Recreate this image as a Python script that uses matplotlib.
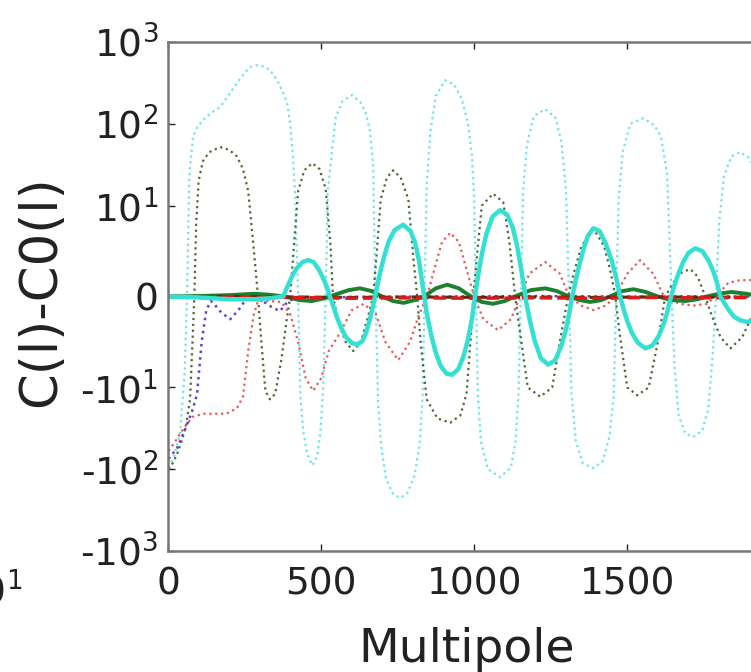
import matplotlib
matplotlib.use("Agg")
import matplotlib.pyplot as plt

# ---- data: C(l) - C0(l) residuals vs multipole ----
ell_cyan_dot = [2, 20, 40, 55, 62, 70, 82, 95, 114, 140, 170, 200, 225, 250, 270, 291, 315, 333, 355, 376,
                389, 399, 408, 416, 425, 432, 442, 455, 471, 487, 498, 507, 515, 522, 532, 548, 570, 601,
                628, 645, 660, 670, 678, 686, 697, 712, 735, 758, 782, 805, 822, 832, 838, 845, 857, 875,
                905, 935, 960, 980, 993, 1000, 1006, 1012, 1022, 1045, 1085, 1120, 1135, 1145, 1152, 1160,
                1172, 1195, 1232, 1265, 1285, 1300, 1310, 1318, 1332, 1355, 1389, 1420, 1442, 1456, 1464,
                1472, 1485, 1510, 1552, 1590, 1610, 1630, 1645, 1655, 1668, 1690, 1716, 1745, 1765, 1780,
                1790, 1800, 1815, 1840, 1869, 1900, 1925, 1950]
cl_cyan_dot = [-95, -70, -35, -8, 0, 25, 70, 90, 111, 135, 160, 230, 315, 420, 495, 520, 500, 455, 350, 240,
               180, 100, 40, 12, 0, -12, -35, -65, -90, -70, -35, -10, 0, 15, 35, 120, 190, 225,
               185, 140, 80, 30, 0, -15, -55, -130, -200, -225, -195, -120, -50, -12, 0, 18, 80, 220,
               340, 300, 200, 100, 40, 12, 0, -12, -45, -100, -125, -95, -45, -12, 0, 15,
               55, 125, 151, 120, 60, 15, 0, -12, -45, -85, -97, -80, -40, -12, 0,
               12, 45, 100, 117, 95, 70, 25, 0, -8, -22, -37, -40, -34, -18, -6,
               0, 8, 22, 40, 45, 38, 22, 8]

ell_olive_dot = [2, 15, 30, 45, 60, 72, 80, 86, 92, 100, 114, 135, 170, 200, 225, 245, 262, 278, 294,
                 305, 318, 333, 350, 370, 388, 399, 410, 425, 445, 471, 495, 515, 530, 539, 555, 580,
                 605, 630, 655, 670, 680, 695, 715, 735, 760, 785, 802, 814, 825, 845, 880, 922, 955,
                 975, 990, 997, 1008, 1025, 1062, 1095, 1115, 1134, 1150, 1175, 1216, 1255, 1285, 1307,
                 1325, 1350, 1389, 1425, 1447, 1461, 1475, 1500, 1533, 1570, 1600, 1624, 1650, 1680,
                 1706, 1730, 1755, 1775, 1805, 1837, 1875, 1910, 1935, 1950]
cl_olive_dot = [-100, -85, -65, -45, -28, -14, -5, 0, 8, 20, 35, 45, 52, 48, 40, 28, 15, 6, 0,
                -5, -11, -14, -12, -7, -2.5, 0, 5, 15, 27, 33, 28, 16, 6, 0, -2.5, -5,
                -6, -5, -2, 0, 4, 12, 22, 27, 22, 12, 4, 0, -5, -14, -24, -27, -22,
                -12, -4, 0, 4, 10, 14, 11, 6, 0, -4, -10, -13, -10, -4, 0,
                2.5, 5.5, 7.5, 5.5, 2.5, 0, -4, -10, -12.5, -10, -5, 0, 1.5, 2.7,
                3, 2.2, 0, -2, -4.5, -5.7, -4.5, -2, 0, 0.8]

ell_red_dot = [2, 25, 50, 80, 114, 150, 190, 225, 245, 262, 280, 294, 330, 370, 400, 425, 450, 474, 500,
               525, 562, 600, 640, 680, 710, 752, 790, 820, 846, 870, 895, 922, 950, 975, 1000, 1030,
               1078, 1120, 1150, 1180, 1232, 1280, 1310, 1350, 1389, 1430, 1460, 1500, 1542, 1585,
               1620, 1670, 1716, 1760, 1790, 1830, 1869, 1910, 1950]
cl_red_dot = [-60, -45, -32, -23, -21, -21, -21, -18, -13, -6, -2, -0.5, -0.5, -0.6, -2, -5, -9, -11, -9,
              -6, -4, -1.5, -0.8, -2, -5, -7, -5, -2, 0, 3, 6, 7, 6, 3, 0, -2.5,
              -3.7, -2.5, 0, 2.5, 3.8, 2.5, 0, -1, -1.5, -1, 0, 2.5, 4, 2.5,
              0, -0.8, -1, -0.8, 0, 1.5, 1.8, 1.8, 1.5]

ell_blue_dot = [2, 30, 60, 82, 95, 110, 125, 140, 150, 175, 203, 230, 255, 268, 300, 340, 366, 385,
                410, 600, 900, 1200, 1500, 1800, 1950]
cl_blue_dot = [-75, -55, -30, -18, -12, -5, -1.5, -0.5, -0.8, -1.8, -2.5, -1.5, -0.3, 0, -0.3, -1.2,
               -1.6, -0.8, -0.2, -0.05, 0, 0.05, 0, 0, 0]

ell_cyan = [2, 100, 200, 280, 330, 376, 390, 405, 420, 440, 458, 475, 492, 510, 520, 529, 540, 552, 565,
            580, 600, 618, 635, 648, 660, 670, 680, 692, 705, 720, 740, 768, 792, 808, 820, 833, 845,
            858, 873, 890, 910, 928, 948, 965, 980, 993, 1003, 1013, 1026, 1040, 1060, 1085, 1108,
            1126, 1140, 1152, 1160, 1170, 1183, 1198, 1218, 1242, 1265, 1285, 1300, 1312, 1320, 1330,
            1343, 1358, 1372, 1389, 1410, 1430, 1450, 1465, 1477, 1488, 1500, 1515, 1535, 1559, 1582,
            1602, 1618, 1630, 1640, 1652, 1667, 1683, 1700, 1722, 1745, 1765, 1782, 1795, 1804, 1815,
            1830, 1848, 1868, 1892, 1915, 1935, 1950]
cl_cyan = [0, -0.1, -0.3, -0.3, -0.2, 0, 1.1, 2.2, 3.1, 3.8, 4.0, 3.8, 3.0, 1.8, 0.9, 0, -1.1, -2.3, -3.4,
           -4.4, -5.1, -5.3, -4.9, -3.9, -2.4, -1.0, 0.6, 2.5, 4.3, 6.0, 7.3, 7.9, 7.2, 5.8, 3.9, 0.9, -1.8,
           -4.0, -6.0, -7.6, -8.5, -8.6, -8.0, -6.6, -4.7, -2.4, 0, 2.3, 4.8, 6.9, 8.8, 9.5, 9.0,
           7.6, 5.6, 3.3, 1.7, -0.6, -2.8, -4.9, -6.8, -7.5, -7.0, -5.4, -3.6, -1.6, 0, 1.5,
           3.4, 5.3, 6.7, 7.5, 7.2, 5.8, 3.9, 1.9, 0, -1.4, -2.7, -4.0, -5.1, -5.7, -5.4,
           -4.4, -3.1, -1.8, -0.4, 1.0, 2.5, 3.8, 4.8, 5.3, 5.0, 4.0, 2.7, 1.3, 0, -0.6,
           -1.4, -2.2, -2.6, -2.8, -2.6, -2.1, -1.4]

ell_green = [2, 100, 200, 280, 330, 380, 430, 470, 510, 545, 590, 627, 665, 700, 735, 770, 805, 840, 875,
             912, 950, 990, 1025, 1062, 1100, 1140, 1185, 1232, 1270, 1310, 1345, 1379, 1415, 1450,
             1485, 1520, 1560, 1600, 1645, 1690, 1730, 1760, 1800, 1840, 1890, 1930, 1950]
cl_green = [0, 0.05, 0.15, 0.3, 0.2, 0, -0.4, -0.5, -0.2, 0.2, 0.7, 0.9, 0.6, 0, -0.5, -0.7, -0.4, 0.1, 0.9,
            1.3, 0.9, 0, -0.6, -0.8, -0.5, 0.1, 0.7, 0.9, 0.6, 0, -0.4, -0.6, -0.4, 0.1,
            0.6, 0.8, 0.5, 0, -0.4, -0.5, -0.3, 0, 0.3, 0.5, 0.3, 0, -0.1]

ell_dash = [2, 200, 400, 600, 800, 1000, 1200, 1400, 1600, 1800, 1950]
cl_red_dash = [0, -0.05, -0.1, -0.2, -0.15, -0.2, -0.15, -0.2, -0.1, -0.15, -0.1]
cl_brown_dash = [0, 0.02, -0.05, -0.1, -0.05, -0.1, -0.05, -0.1, -0.05, -0.08, -0.05]

yticks = [-1000, -100, -10, 0, 10, 100, 1000]
ytick_labels = ['-$10^{3}$', '-$10^{2}$', '-$10^{1}$', '0', '$10^{1}$', '$10^{2}$', '$10^{3}$']
xticks = [0, 500, 1000, 1500]
xtick_labels = ['0', '500', '1000', '1500']

# ---- figure ----
W, H = 751, 672
fig = plt.figure(figsize=(W / 100, H / 100), dpi=100)
left, right, top, bottom = 168, 765, 42, 551
ax = fig.add_axes([left / W, 1 - bottom / H, (right - left) / W, (bottom - top) / H])

ax.plot(ell_cyan_dot, cl_cyan_dot, ':', color='#6ee4e4', lw=1.6)
ax.plot(ell_olive_dot, cl_olive_dot, ':', color='#4a6a38', lw=1.6)
ax.plot(ell_red_dot, cl_red_dot, ':', color='#e85858', lw=1.6)
ax.plot(ell_blue_dot, cl_blue_dot, ':', color='#5a44cc', lw=1.8)
ax.plot(ell_green, cl_green, '-', color='#1e7f2e', lw=2.8)
ax.plot(ell_dash, cl_brown_dash, '--', color='#5c2a12', lw=2.2)
ax.plot(ell_dash, cl_red_dash, '--', color='#e01818', lw=2.4)
ax.plot(ell_cyan, cl_cyan, '-', color='#33e0d2', lw=3.2)

ax.set_yscale('symlog', linthresh=10, linscale=1)
ax.set_ylim(-1000, 1000)
ax.set_xlim(0, 1950)
ax.set_yticks(yticks, labels=ytick_labels)
ax.set_xticks(xticks, labels=xtick_labels)
ax.minorticks_off()

ax.tick_params(direction='in', length=5, width=1, top=True, right=True,
               labelsize=27, colors='#222222')
ax.tick_params(axis='x', pad=11)
ax.tick_params(axis='y', pad=7)
for sp in ax.spines.values():
    sp.set_color('#777777')
    sp.set_linewidth(1.8)

ax.set_xlabel('Multipole', fontsize=34, color='#222222')
ax.xaxis.set_label_coords(0.5, (bottom - 662) / (bottom - top))
ax.xaxis.label.set_verticalalignment('baseline')

ax.set_ylabel('C(l)-C0(l)', fontsize=37, color='#222222')
ax.yaxis.set_label_coords((41 - left) / (right - left), 0.51)
ax.yaxis.label.set_verticalalignment('center')

# tick label of the neighbouring panel, partly outside the canvas
fig.text(22 / W, 1 - 603 / H, '$10^{1}$', ha='right', va='baseline', fontsize=27, color='#222222')

fig.savefig('out.png', dpi=100)
